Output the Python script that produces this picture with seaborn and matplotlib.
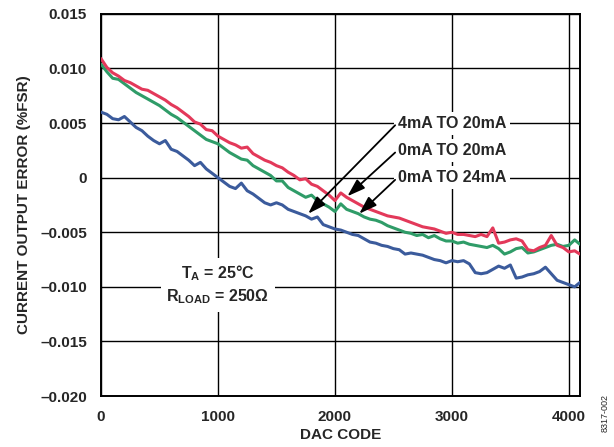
import numpy as np
import pandas as pd
import matplotlib
matplotlib.use("Agg")
import matplotlib.pyplot as plt
from matplotlib.ticker import FuncFormatter
import seaborn as sns

# DAC codes the curves were read at
dac_code = list(range(0, 4096, 50)) + [4095]

# 0mA to 20mA range (red)
err_0_20 = [
    0.0109, 0.0101, 0.0096, 0.0093, 0.0089, 0.0087, 0.0084, 0.0081, 0.0080, 0.0077,
    0.0074, 0.0071, 0.0067, 0.0064, 0.0060, 0.0056, 0.0051, 0.0049, 0.0044, 0.0043,
    0.0038, 0.0035, 0.0032, 0.0030, 0.0027, 0.0028, 0.0022, 0.0019, 0.0016, 0.0014,
    0.0011, 0.0009, 0.0005, 0.0002, -0.0002, -0.0001, -0.0006, -0.0008, -0.0012, -0.0016,
    -0.0021, -0.0014, -0.0018, -0.0021, -0.0024, -0.0027, -0.0029, -0.0031, -0.0033, -0.0035,
    -0.0036, -0.0037, -0.0039, -0.0041, -0.0043, -0.0045, -0.0046, -0.0047, -0.0049, -0.0051,
    -0.0050, -0.0052, -0.0052, -0.0053, -0.0054, -0.0052, -0.0054, -0.0046, -0.0060, -0.0059,
    -0.0057, -0.0056, -0.0058, -0.0066, -0.0067, -0.0064, -0.0062, -0.0053, -0.0062, -0.0064,
    -0.0068, -0.0067, -0.0070,
]

# 0mA to 24mA range (green)
err_0_24 = [
    0.0104, 0.0097, 0.0091, 0.0090, 0.0086, 0.0082, 0.0078, 0.0075, 0.0072, 0.0069,
    0.0066, 0.0062, 0.0058, 0.0055, 0.0051, 0.0047, 0.0043, 0.0039, 0.0035, 0.0033,
    0.0031, 0.0027, 0.0023, 0.0020, 0.0017, 0.0016, 0.0011, 0.0008, 0.0005, 0.0002,
    -0.0003, -0.0003, -0.0009, -0.0012, -0.0015, -0.0018, -0.0016, -0.0021, -0.0024, -0.0027,
    -0.0031, -0.0024, -0.0029, -0.0031, -0.0033, -0.0036, -0.0038, -0.0039, -0.0041, -0.0044,
    -0.0046, -0.0048, -0.0050, -0.0051, -0.0053, -0.0052, -0.0055, -0.0053, -0.0056, -0.0058,
    -0.0058, -0.0060, -0.0059, -0.0061, -0.0062, -0.0063, -0.0064, -0.0062, -0.0065, -0.0070,
    -0.0068, -0.0065, -0.0064, -0.0069, -0.0068, -0.0066, -0.0064, -0.0062, -0.0061, -0.0063,
    -0.0062, -0.0057, -0.0061,
]

# 4mA to 20mA range (blue)
err_4_20 = [
    0.0060, 0.0058, 0.0054, 0.0053, 0.0056, 0.0051, 0.0046, 0.0043, 0.0038, 0.0034,
    0.0031, 0.0034, 0.0026, 0.0024, 0.0020, 0.0016, 0.0011, 0.0014, 0.0008, 0.0004,
    0.0000, -0.0004, -0.0008, -0.0010, -0.0005, -0.0012, -0.0015, -0.0019, -0.0023, -0.0025,
    -0.0023, -0.0025, -0.0029, -0.0031, -0.0033, -0.0035, -0.0038, -0.0036, -0.0043, -0.0045,
    -0.0047, -0.0048, -0.0050, -0.0052, -0.0053, -0.0056, -0.0059, -0.0060, -0.0062, -0.0063,
    -0.0065, -0.0066, -0.0070, -0.0069, -0.0070, -0.0071, -0.0073, -0.0075, -0.0076, -0.0078,
    -0.0076, -0.0077, -0.0076, -0.0079, -0.0087, -0.0088, -0.0087, -0.0084, -0.0081, -0.0083,
    -0.0080, -0.0092, -0.0091, -0.0089, -0.0088, -0.0086, -0.0082, -0.0088, -0.0094, -0.0096,
    -0.0098, -0.0100, -0.0096,
]

range_labels = ["4mA TO 20mA", "0mA TO 20mA", "0mA TO 24mA"]
x_ticks = [0, 1000, 2000, 3000, 4000]
y_ticks = [-0.020, -0.015, -0.010, -0.005, 0, 0.005, 0.010, 0.015]

# long form table for seaborn
df = pd.concat([
    pd.DataFrame({"code": dac_code, "err": err_4_20, "range": range_labels[0]}),
    pd.DataFrame({"code": dac_code, "err": err_0_24, "range": range_labels[2]}),
    pd.DataFrame({"code": dac_code, "err": err_0_20, "range": range_labels[1]}),
])

sns.set_theme(style="white")
plt.rcParams["font.family"] = ["Liberation Sans", "DejaVu Sans"]
plt.rcParams["font.weight"] = "bold"
plt.rcParams["mathtext.fontset"] = "custom"
plt.rcParams["mathtext.rm"] = "Liberation Sans:bold"
plt.rcParams["mathtext.bf"] = "Liberation Sans:bold"

palette = {range_labels[0]: "#3b5b9c", range_labels[1]: "#e3395a", range_labels[2]: "#2f9c68"}

fig = plt.figure(figsize=(6.14, 4.47), dpi=100)
ax = fig.add_axes([0.1645, 0.114, 0.780, 0.855])

sns.lineplot(data=df, x="code", y="err", hue="range", palette=palette,
             linewidth=2.2, legend=False, ax=ax, zorder=3)

ax.set_xlim(0, 4095)
ax.set_ylim(-0.020, 0.015)
ax.set_xticks(x_ticks)
ax.set_yticks(y_ticks)

def fmt_y(v, pos):
    if abs(v) < 1e-12:
        return "0"
    s = f"{abs(v):.3f}"
    return ("\u2013" + s) if v < 0 else s

ax.yaxis.set_major_formatter(FuncFormatter(fmt_y))
ax.grid(True, color="black", linewidth=1.0)
ax.tick_params(axis="y", length=0, labelsize=11, pad=10)
ax.tick_params(axis="x", length=0, labelsize=11, pad=10)
for lab in ax.get_xticklabels() + ax.get_yticklabels():
    lab.set_fontweight("bold")
for sp in ax.spines.values():
    sp.set_color("black")
    sp.set_linewidth(1.4)

ax.set_xlabel("DAC CODE", fontsize=11, fontweight="bold", labelpad=3)
ax.set_ylabel("CURRENT OUTPUT ERROR (%FSR)", fontsize=11, fontweight="bold", labelpad=7)

# range labels with arrows
box = dict(boxstyle="square,pad=0.25", fc="white", ec="none")
arrow = dict(arrowstyle="-|>,head_length=0.9,head_width=0.3", color="black", lw=1.3,
             shrinkA=0, shrinkB=0)
label_y = [0.005, 0.0025, 0.0]
targets = [(1772, -0.0033), (2107, -0.0017), (2208, -0.0033)]
for text, ly, (tx, ty) in zip(range_labels, label_y, targets):
    ax.text(3000, ly, text, ha="center", va="center", fontsize=11.5, fontweight="bold",
            bbox=box, zorder=5)
    ax.annotate("", xy=(tx, ty), xytext=(2515, ly - 0.0002), arrowprops=arrow, zorder=6)

ax.text(1000, -0.0098, "T$_{\\mathbf{A}}$ = 25°C\nR$_{\\mathbf{LOAD}}$ = 250\u03a9",
        ha="center", va="center", fontsize=11.5, fontweight="bold", linespacing=1.3,
        bbox=dict(boxstyle="square,pad=0.35", fc="white", ec="none"), zorder=5)

fig.text(0.985, 0.075, "8317-002", rotation=90, ha="center", va="center",
         fontsize=6.5, fontweight="normal")

fig.savefig("out.png", dpi=100)
